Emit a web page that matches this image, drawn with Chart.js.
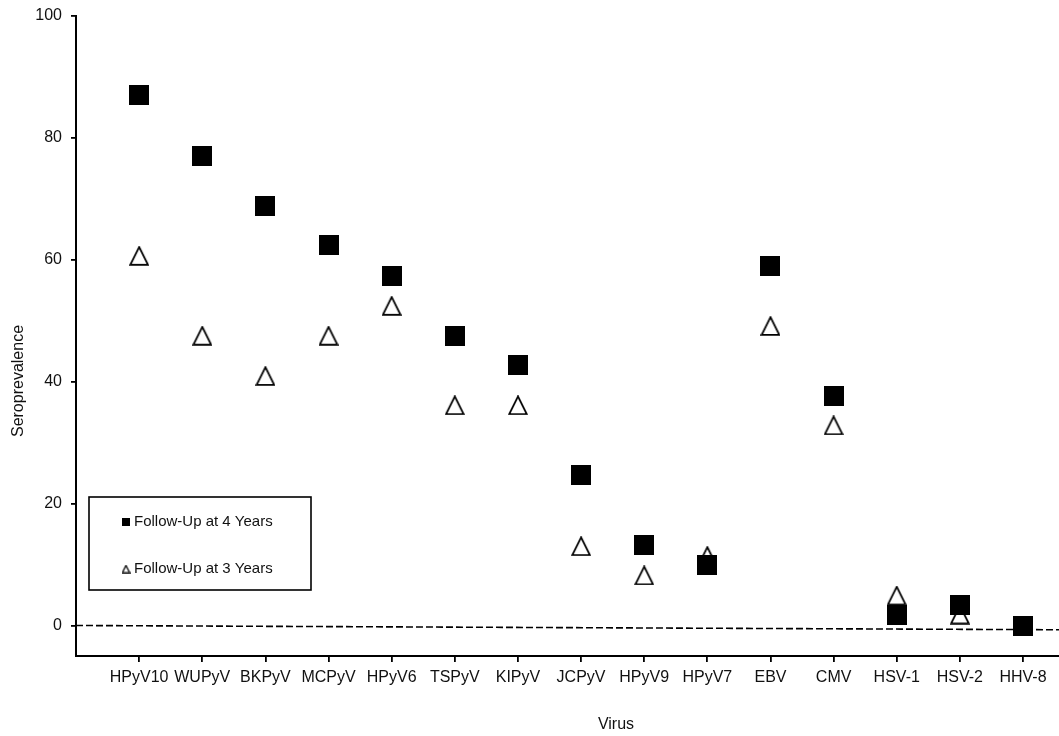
<!DOCTYPE html>
<html>
<head>
<meta charset="utf-8">
<script src="https://cdn.jsdelivr.net/npm/chart.js@4.4.1/dist/chart.umd.min.js"></script>
<style>
  html, body { margin: 0; padding: 0; background: #fff; }
  #wrap { width: 1059px; height: 736px; }
</style>
</head>
<body>
<div id="wrap"><canvas id="c" width="1059" height="736"></canvas></div>
<script>
const categories = ['HPyV10','WUPyV','BKPyV','MCPyV','HPyV6','TSPyV','KIPyV','JCPyV','HPyV9','HPyV7','EBV','CMV','HSV-1','HSV-2','HHV-8'];
const followUp4 = [87.0, 77.0, 68.8, 62.3, 57.3, 47.5, 42.7, 24.7, 13.2, 9.9, 59.0, 37.7, 1.8, 3.3, 0.0];
const followUp3 = [60.6, 47.5, 40.9, 47.5, 52.4, 36.1, 36.1, 13.0, 8.2, 11.4, 49.1, 32.8, 4.9, 1.8, 0.0];
const seriesLabels = ['Follow-Up at 4 Years', 'Follow-Up at 3 Years'];
const yTicks = [0, 20, 40, 60, 80, 100];
const refLineX = [0, 15.57];
const refLineY = [0, -0.7];
const xTitle = 'Virus';
const yTitle = 'Seroprevalence';

const FONT = '"Liberation Sans", Arial, Helvetica, sans-serif';

function makeSquare(size) {
  const c = document.createElement('canvas');
  c.width = size; c.height = size;
  const g = c.getContext('2d');
  g.fillStyle = '#000';
  g.fillRect(0, 0, size, size);
  return c;
}
function makeTriangle(size, lw) {
  const c = document.createElement('canvas');
  c.width = size; c.height = size;
  const g = c.getContext('2d');
  const m = lw / 2 + 0.3;
  g.beginPath();
  g.moveTo(size / 2, m);
  g.lineTo(size - m, size - m);
  g.lineTo(m, size - m);
  g.closePath();
  g.fillStyle = '#fff';
  g.fill();
  g.lineWidth = lw;
  g.strokeStyle = '#000';
  g.lineJoin = 'miter';
  g.stroke();
  return c;
}
const sqMarker = makeSquare(20);
const triMarker = makeTriangle(20, 1.8);
const sqLegend = makeSquare(8);
const triLegend = makeTriangle(9, 1.3);

const toPts = arr => arr.map((v, i) => ({ x: i + 1, y: v }));

const overlay = {
  id: 'overlay',
  afterDraw(chart) {
    const ctx = chart.ctx;
    ctx.save();
    ctx.strokeStyle = '#000';
    ctx.lineWidth = 1.6;
    ctx.strokeRect(89, 497, 222, 93);
    ctx.fillStyle = '#111';
    ctx.font = '15px ' + FONT;
    ctx.textBaseline = 'middle';
    ctx.textAlign = 'left';
    ctx.drawImage(sqLegend, 122, 522 - 4);
    ctx.fillText(seriesLabels[0], 134, 522);
    ctx.drawImage(triLegend, 121.5, 569 - 4.5);
    ctx.fillText(seriesLabels[1], 134, 569);
    ctx.font = '16px ' + FONT;
    ctx.textAlign = 'center';
    ctx.fillText(xTitle, 616, 725);
    ctx.translate(18.5, 381);
    ctx.rotate(-Math.PI / 2);
    ctx.fillText(yTitle, 0, 0);
    ctx.restore();
  }
};

new Chart(document.getElementById('c'), {
  type: 'scatter',
  data: {
    datasets: [
      {
        label: seriesLabels[0],
        data: toPts(followUp4),
        pointStyle: sqMarker,
        backgroundColor: '#000',
        borderColor: '#000',
        clip: false
      },
      {
        label: seriesLabels[1],
        data: toPts(followUp3),
        pointStyle: triMarker,
        backgroundColor: '#fff',
        borderColor: '#000',
        clip: false
      },
      {
        type: 'line',
        label: 'ref',
        data: refLineX.map((x, i) => ({ x: x, y: refLineY[i] })),
        borderColor: '#000',
        borderWidth: 1.6,
        borderDash: [7, 3],
        pointRadius: 0,
        fill: false,
        clip: false
      }
    ]
  },
  options: {
    responsive: false,
    animation: false,
    events: [],
    layout: { autoPadding: false, padding: { top: 15.5, right: 0, left: 0, bottom: 0 } },
    plugins: { legend: { display: false }, tooltip: { enabled: false } },
    scales: {
      x: {
        type: 'linear',
        min: 0,
        max: 15.57,
        afterBuildTicks(scale) { scale.ticks = categories.map((c, i) => ({ value: i + 1 })); },
        afterFit(scale) { scale.height = 80; scale.paddingLeft = 0; scale.paddingRight = 0; },
        ticks: {
          autoSkip: false,
          maxRotation: 0,
          padding: 6,
          color: '#111',
          font: { family: FONT, size: 16 },
          callback: v => categories[Math.round(v) - 1]
        },
        grid: { drawOnChartArea: false, drawTicks: true, tickLength: 6, color: '#000', lineWidth: 1.8 },
        border: { display: true, color: '#000', width: 2 }
      },
      y: {
        type: 'linear',
        min: -5,
        max: 100,
        afterBuildTicks(scale) { scale.ticks = yTicks.map(v => ({ value: v })); },
        afterFit(scale) { scale.width = 76; scale.paddingTop = 0; scale.paddingBottom = 0; },
        ticks: {
          padding: 9,
          color: '#111',
          font: { family: FONT, size: 16 }
        },
        grid: { drawOnChartArea: false, drawTicks: true, tickLength: 5, color: '#000', lineWidth: 1.8 },
        border: { display: true, color: '#000', width: 2 }
      }
    }
  },
  plugins: [overlay]
});
</script>
</body>
</html>
